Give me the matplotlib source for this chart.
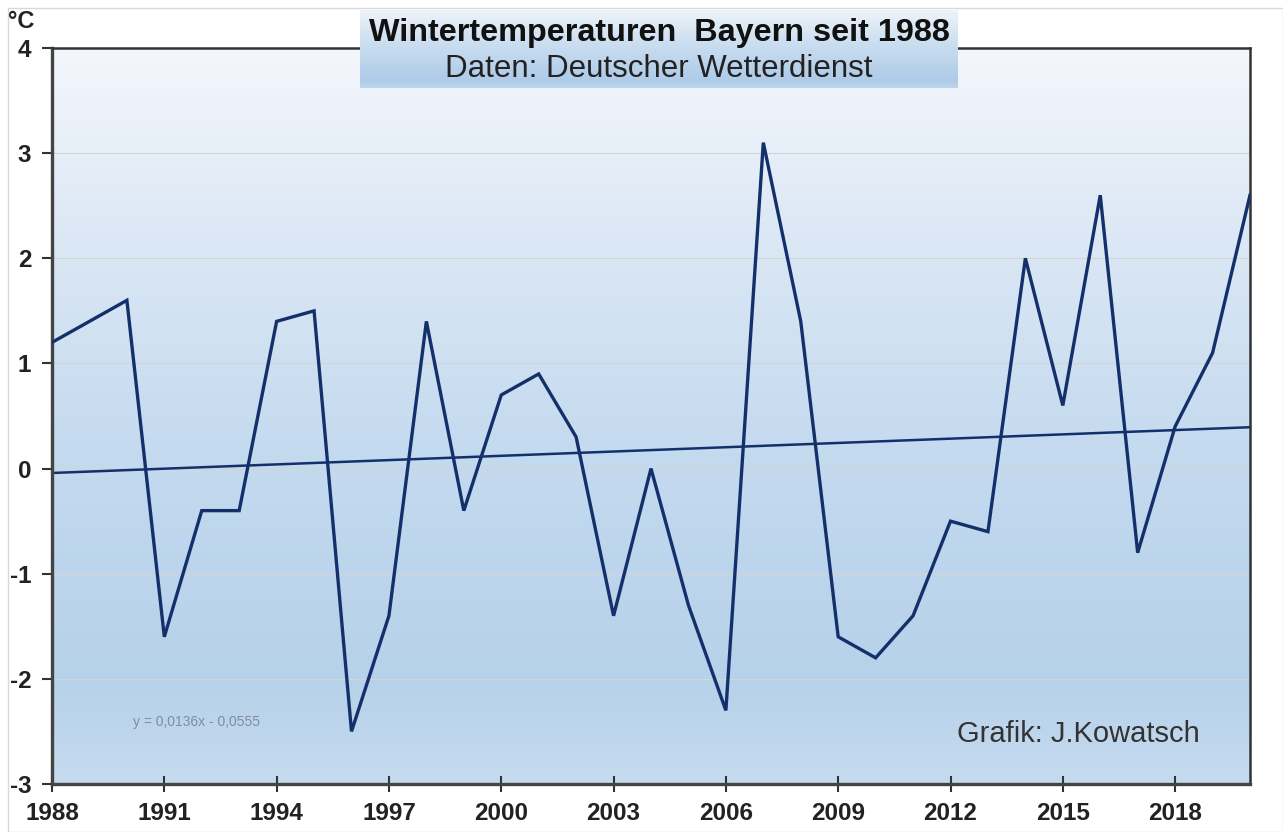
import numpy as np
import matplotlib
matplotlib.use("Agg")
import matplotlib.pyplot as plt
from matplotlib.colors import LinearSegmentedColormap
from matplotlib.patches import Rectangle

# ---- data ----
years = list(range(1988, 2021))
temps = [1.2, 1.4, 1.6, -1.6, -0.4, -0.4, 1.4, 1.5, -2.5, -1.4,
         1.4, -0.4, 0.7, 0.9, 0.3, -1.4, 0.0, -1.3, -2.3, 3.1,
         1.4, -1.6, -1.8, -1.4, -0.5, -0.6, 2.0, 0.6, 2.6, -0.8,
         0.4, 1.1, 2.6]
trend_slope = 0.0136
trend_intercept = -0.0555
xticks = [1988, 1991, 1994, 1997, 2000, 2003, 2006, 2009, 2012, 2015, 2018]
yticks = [-3, -2, -1, 0, 1, 2, 3, 4]
title = "Wintertemperaturen  Bayern seit 1988"
subtitle = "Daten: Deutscher Wetterdienst"
credit = "Grafik: J.Kowatsch"
equation = "y = 0,0136x - 0,0555"

plt.rcParams['font.family'] = ['Liberation Sans', 'DejaVu Sans']

W, H = 1283, 832
fig = plt.figure(figsize=(W / 100, H / 100), dpi=100)
fig.patch.set_facecolor("white")

# outer frame
fig.add_artist(Rectangle((8 / W, 0), 1 - 8 / W, 1 - 8 / H, transform=fig.transFigure,
                         fill=False, edgecolor="#d8d8d8", linewidth=1))

L, R, T, B = 52, 1250, 48, 784
ax = fig.add_axes([L / W, 1 - B / H, (R - L) / W, (B - T) / H])

xmin, xmax, ymin, ymax = 1988, 2020, -3, 4
# background gradient
bg_cmap = LinearSegmentedColormap.from_list(
    "bg", [(0.0, "#c6dbef"), (0.14, "#b6d1ea"), (0.45, "#c4daef"),
           (0.75, "#dce8f5"), (1.0, "#f4f7fc")])
grad = np.linspace(0, 1, 256).reshape(-1, 1)
ax.imshow(grad, cmap=bg_cmap, aspect="auto", origin="lower",
          extent=[xmin, xmax, ymin, ymax], zorder=0)

ax.set_xlim(xmin, xmax)
ax.set_ylim(ymin, ymax)

for yv in yticks[1:-1]:
    ax.axhline(yv, color="#d4d4d4", linewidth=0.8, zorder=1)

line_color = "#14306b"
ax.plot(years, temps, color=line_color, linewidth=2.4, zorder=3,
        solid_joinstyle="miter")
xi = np.arange(1, len(years) + 1)
ax.plot(years, trend_slope * xi + trend_intercept, color=line_color,
        linewidth=1.8, zorder=2)

ax.set_xticks(xticks)
ax.set_yticks(yticks)
ax.set_xticklabels([str(v) for v in xticks])
ax.set_yticklabels([str(v) for v in yticks])
ax.tick_params(axis="x", direction="inout", length=12, width=1.5, color="#333333",
               labelsize=17.5, pad=7)
ax.tick_params(axis="y", direction="out", length=7, width=1.5, color="#333333",
               labelsize=17.5, pad=8)
for lab in ax.get_xticklabels() + ax.get_yticklabels():
    lab.set_fontweight("bold")
    lab.set_color("#222222")

for side in ["left", "bottom"]:
    ax.spines[side].set_linewidth(2.4)
    ax.spines[side].set_color("#444444")
for side in ["top", "right"]:
    ax.spines[side].set_linewidth(1.8)
    ax.spines[side].set_color("#333333")

ax.text(0.0676, 0.084, equation, transform=ax.transAxes, fontsize=10,
        color="#7f8e9c", va="center", ha="left", zorder=4)
ax.text(0.958, 0.068, credit, transform=ax.transAxes, fontsize=21,
        color="#333333", va="center", ha="right", zorder=4)

fig.text(8 / W, 1 - 22 / H, "°C", fontsize=17, fontweight="bold",
         color="#222222", va="center", ha="left")

# title box
tax = fig.add_axes([360 / W, 1 - 88 / H, 598 / W, 78 / H])
t_cmap = LinearSegmentedColormap.from_list(
    "tb", [(0.0, "#bcd5ec"), (0.1, "#aecbe8"), (0.6, "#cddff1"), (1.0, "#eef4fa")])
tax.imshow(grad, cmap=t_cmap, aspect="auto", origin="lower",
           extent=[0, 1, 0, 1])
tax.set_xlim(0, 1)
tax.set_ylim(0, 1)
tax.axis("off")
tax.text(0.5, 0.70, title, fontsize=23.3, fontweight="bold", color="#111111",
         ha="center", va="center")
tax.text(0.5, 0.24, subtitle, fontsize=22.5, color="#222222",
         ha="center", va="center")

fig.savefig("out.png", dpi=100)
